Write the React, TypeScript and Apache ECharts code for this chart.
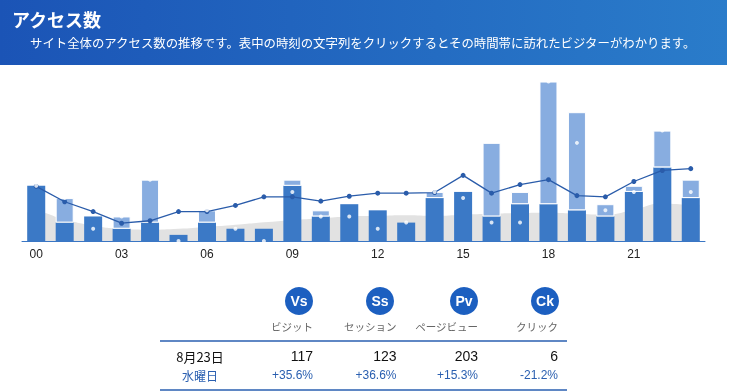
import React, { useEffect, useRef } from "react";
import * as echarts from "echarts";

const hours = ["00","01","02","03","04","05","06","07","08","09","10","11","12","13","14","15","16","17","18","19","20","21","22","23"];
const sessions = [9, 3, 4, 2, 3, 1, 3, 2, 2, 9, 4, 6, 5, 3, 7, 8, 4, 6, 6, 5, 4, 8, 12, 7];
const pageViews = [9, 7, 4, 4, 10, 1, 5, 2, 2, 10, 5, 6, 5, 3, 8, 8, 16, 8, 26, 21, 6, 9, 18, 10];
const markers = [9, 7, 2, 4, 10, 0, 5, 2, 0, 8, 4, 4, 2, 3, 8, 7, 3, 3, 26, 16, 5, 8, 18, 8];
const trend = [8.9, 6.4, 4.8, 2.9, 3.3, 4.8, 4.8, 5.8, 7.2, 7.2, 6.5, 7.3, 7.8, 7.8, 7.9, 10.7, 7.8, 9.2, 10.0, 7.4, 7.2, 9.7, 11.5, 11.8];
const previous = [4.7, 3.5, 2.5, 2.0, 1.85, 2.0, 2.3, 2.65, 3.05, 3.4, 3.7, 4.0, 4.1, 4.2, 4.1, 4.3, 4.45, 4.55, 4.6, 4.45, 4.3, 5.1, 6.1, 5.9];

const titleText = "アクセス数";
const subtitleText = "サイト全体のアクセス数の推移です。表中の時刻の文字列をクリックするとその時間帯に訪れたビジターがわかります。";
const metricCodes = ["Vs", "Ss", "Pv", "Ck"];
const metricNames = ["ビジット", "セッション", "ページビュー", "クリック"];
const metricTotals = ["117", "123", "203", "6"];
const metricChanges = ["+35.6%", "+36.6%", "+15.3%", "-21.2%"];
const dateLabel = "8月23日";
const weekdayLabel = "水曜日";

const JP = "'Noto Sans CJK JP', 'Noto Sans', sans-serif";
const NUM = "'Liberation Sans', Arial, sans-serif";
const BLUE = "#2a5fb0";

export default function App() {
  const ref = useRef<HTMLDivElement>(null);
  useEffect(() => {
    if (!ref.current) return;
    const chart = echarts.init(ref.current, undefined, { renderer: "svg" });
    const extra = pageViews.map((v, i) => (v - sessions[i] > 0 ? v - sessions[i] : "-"));
    // gray area spans from the left edge of the first bar to the right edge of the last bar
    const half = 0.316;
    const prevPts: number[][] = [[-half, previous[0]]];
    previous.forEach((v, i) => prevPts.push([i, v]));
    prevPts.push([previous.length - 1 + half, previous[previous.length - 1]]);

    const colRight = [313, 396.5, 478, 558];
    const circleX = [299, 380, 464, 545];
    const graphics: any[] = [
      {
        type: "rect",
        shape: { x: 0, y: 0, width: 727, height: 65 },
        style: {
          fill: new echarts.graphic.LinearGradient(0, 0, 1, 0, [
            { offset: 0, color: "#1b54b6" },
            { offset: 1, color: "#2a7cca" },
          ]),
        },
        z: 0,
      },
      {
        type: "text",
        x: 12,
        y: 19,
        style: { text: titleText, fill: "#fff", font: `bold 18px ${JP}`, verticalAlign: "middle" },
      },
      {
        type: "text",
        x: 30,
        y: 43,
        style: { text: subtitleText, fill: "#fff", font: `12.4px ${JP}`, verticalAlign: "middle" },
      },
      {
        type: "line",
        shape: { x1: 160, y1: 341, x2: 567, y2: 341 },
        style: { stroke: BLUE, lineWidth: 1.5 },
      },
      {
        type: "line",
        shape: { x1: 160, y1: 390, x2: 567, y2: 390 },
        style: { stroke: BLUE, lineWidth: 1.5 },
      },
      {
        type: "text",
        x: 200,
        y: 356,
        style: { text: dateLabel, fill: "#111", font: `13px ${JP}`, align: "center", verticalAlign: "middle" },
      },
      {
        type: "text",
        x: 200,
        y: 375,
        style: { text: weekdayLabel, fill: BLUE, font: `12px ${JP}`, align: "center", verticalAlign: "middle" },
      },
    ];
    metricCodes.forEach((code, i) => {
      graphics.push({
        type: "circle",
        shape: { cx: circleX[i], cy: 301, r: 14 },
        style: { fill: "#1c5fc0" },
      });
      graphics.push({
        type: "text",
        x: circleX[i],
        y: 301,
        style: { text: code, fill: "#fff", font: `bold 14px ${NUM}`, align: "center", verticalAlign: "middle" },
      });
      graphics.push({
        type: "text",
        x: colRight[i],
        y: 326,
        style: { text: metricNames[i], fill: "#666", font: `10.5px ${JP}`, align: "right", verticalAlign: "middle" },
      });
      graphics.push({
        type: "text",
        x: colRight[i],
        y: 356,
        style: { text: metricTotals[i], fill: "#111", font: `14px ${NUM}`, align: "right", verticalAlign: "middle" },
      });
      graphics.push({
        type: "text",
        x: colRight[i],
        y: 375,
        style: { text: metricChanges[i], fill: BLUE, font: `12px ${NUM}`, align: "right", verticalAlign: "middle" },
      });
    });

    chart.setOption({
      animation: false,
      grid: { left: 22, right: 30, top: 57, bottom: 150 },
      xAxis: [
        {
          type: "category",
          data: hours,
          axisLine: { lineStyle: { color: "#3a76c4", width: 1 } },
          axisTick: { show: false },
          axisLabel: { interval: 2, color: "#222", fontSize: 12, fontFamily: NUM, margin: 7 },
        },
        { type: "value", min: -0.5, max: 23.5, show: false },
      ],
      yAxis: { type: "value", min: 0, max: 30, show: false, splitLine: { show: false } },
      graphic: graphics,
      series: [
        {
          type: "line",
          xAxisIndex: 1,
          data: prevPts,
          smooth: true,
          symbol: "none",
          lineStyle: { width: 0 },
          areaStyle: { color: "#e2e2e2", opacity: 1 },
          z: 1,
        },
        {
          type: "bar",
          stack: "pv",
          data: sessions,
          barWidth: 18,
          itemStyle: { color: "#3b79c6" },
          z: 2,
        },
        {
          type: "bar",
          stack: "pv",
          data: extra,
          barWidth: 18,
          itemStyle: { color: "#88ade0", borderColor: "#fff", borderWidth: 1 },
          z: 2,
        },
        {
          type: "line",
          data: trend,
          symbol: "circle",
          symbolSize: 5,
          lineStyle: { color: "#2a5caa", width: 1.3 },
          itemStyle: { color: "#2a5caa" },
          z: 3,
        },
        {
          type: "scatter",
          data: markers,
          symbol: "circle",
          symbolSize: 4,
          itemStyle: { color: "#fff" },
          z: 4,
        },
      ],
    });
    return () => chart.dispose();
  }, []);
  return <div ref={ref} style={{ position: "fixed", left: 0, top: 0, width: 735, height: 391 }} />;
}
